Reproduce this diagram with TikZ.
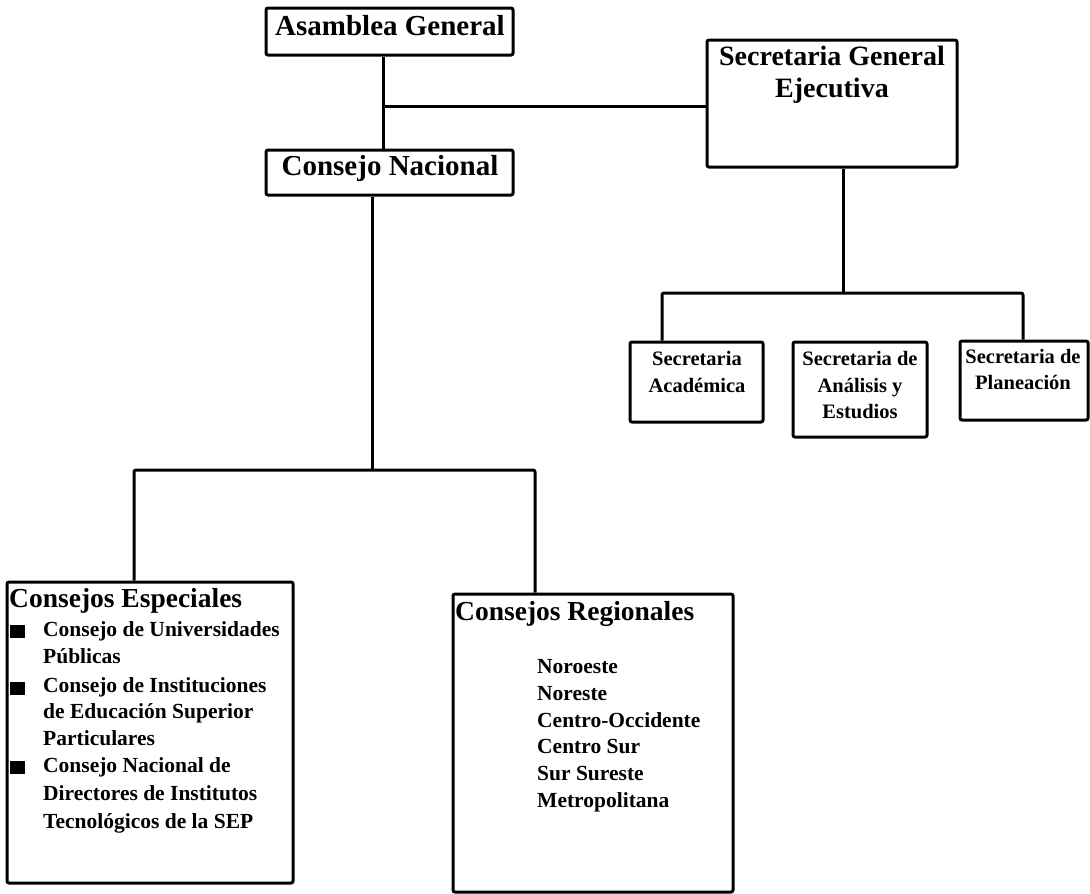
\documentclass[tikz,border=0pt]{standalone}
\usepackage{fontspec}
\setmainfont{Liberation Serif}
\begin{document}
\begin{tikzpicture}[x=1pt,y=-1pt,
  box/.style={draw, line width=3pt, rounded corners=2pt, inner sep=0pt},
  conn/.style={line width=3pt, line join=round, rounded corners=2pt},
  txt/.style={inner sep=0pt, anchor=base},
  bigc/.style={txt, font=\fontsize{29}{32}\selectfont\bfseries},
  sec/.style={txt, font=\fontsize{28}{32}\selectfont\bfseries},
  sub/.style={txt, font=\fontsize{20.5}{25}\selectfont\bfseries},
  head/.style={txt, anchor=base west, font=\fontsize{27.5}{32}\selectfont\bfseries},
  item/.style={txt, anchor=base west, font=\fontsize{21.5}{26}\selectfont\bfseries},
  bullet/.style={fill, inner sep=0pt, minimum width=15pt, minimum height=13pt},
]
\useasboundingbox (0,0) rectangle (1090,894);

% boxes
\node[box, minimum width=247pt, minimum height=47pt] (asam) at (389.5,31.5) {};
\node[box, minimum width=247pt, minimum height=45pt] (cn) at (389.5,172.5) {};
\node[box, minimum width=250pt, minimum height=127pt] (sge) at (832,103.5) {};
\node[box, minimum width=133pt, minimum height=80pt] (sa) at (696.5,382) {};
\node[box, minimum width=134pt, minimum height=95pt] (sae) at (860,389.5) {};
\node[box, minimum width=128pt, minimum height=79pt] (sp) at (1024,380.5) {};
\node[box, minimum width=286pt, minimum height=301pt] (ce) at (150,732.5) {};
\node[box, minimum width=280pt, minimum height=298pt] (cr) at (593,743) {};

% texts
\node[bigc] (tasam) at (390,35) {Asamblea General};
\node[bigc] (tcn) at (390,175) {Consejo Nacional};
\node[sec] (tsge1) at (832,65) {Secretaria General};
\node[sec] (tsge2) at (832,97) {Ejecutiva};
\node[sub] (tsa1) at (697,365) {Secretaria};
\node[sub] (tsa2) at (697,392) {Académica};
\node[sub] (tsae1) at (860,365) {Secretaria de};
\node[sub] (tsae2) at (860,392) {Análisis y};
\node[sub] (tsae3) at (860,418) {Estudios};
\node[sub] (tsp1) at (1023,363) {Secretaria de};
\node[sub] (tsp2) at (1023,389) {Planeación};

\node[head] (tce) at (9,607) {Consejos Especiales};
\node[bullet] (b1) at (17,631) {};
\node[item] (ce1) at (43,636) {Consejo de Universidades};
\node[item] (ce2) at (43,663) {Públicas};
\node[bullet] (b2) at (17,688) {};
\node[item] (ce3) at (43,692) {Consejo de Instituciones};
\node[item] (ce4) at (43,718) {de Educación Superior};
\node[item] (ce5) at (43,745) {Particulares};
\node[bullet] (b3) at (17,767) {};
\node[item] (ce6) at (43,772) {Consejo Nacional de};
\node[item] (ce7) at (43,800) {Directores de Institutos};
\node[item] (ce8) at (43,828) {Tecnológicos de la SEP};

\node[head] (tcr) at (455,620) {Consejos Regionales};
\node[item] (cr1) at (537,673) {Noroeste};
\node[item] (cr2) at (537,700) {Noreste};
\node[item] (cr3) at (537,727) {Centro-Occidente};
\node[item] (cr4) at (537,753) {Centro Sur};
\node[item] (cr5) at (537,780) {Sur Sureste};
\node[item] (cr6) at (537,807) {Metropolitana};

% connectors
\coordinate (j1) at (383,106);
\draw[conn] (j1 |- asam.south) -- (j1 |- cn.north);
\draw[conn] (j1) -- (j1 -| sge.west);

\coordinate (j2) at (843,293);
\coordinate (jA) at (662,293);
\coordinate (jP) at (1023,293);
\draw[conn] (j2 |- sge.south) -- (j2);
\draw[conn] (jA |- sa.north) -- (jA) -- (jP) -- (jP |- sp.north);

\coordinate (j3) at (372,470);
\coordinate (jE) at (134,470);
\coordinate (jR) at (535,470);
\draw[conn] (j3 |- cn.south) -- (j3);
\draw[conn] (jE |- ce.north) -- (jE) -- (jR) -- (jR |- cr.north);
\end{tikzpicture}
\end{document}
